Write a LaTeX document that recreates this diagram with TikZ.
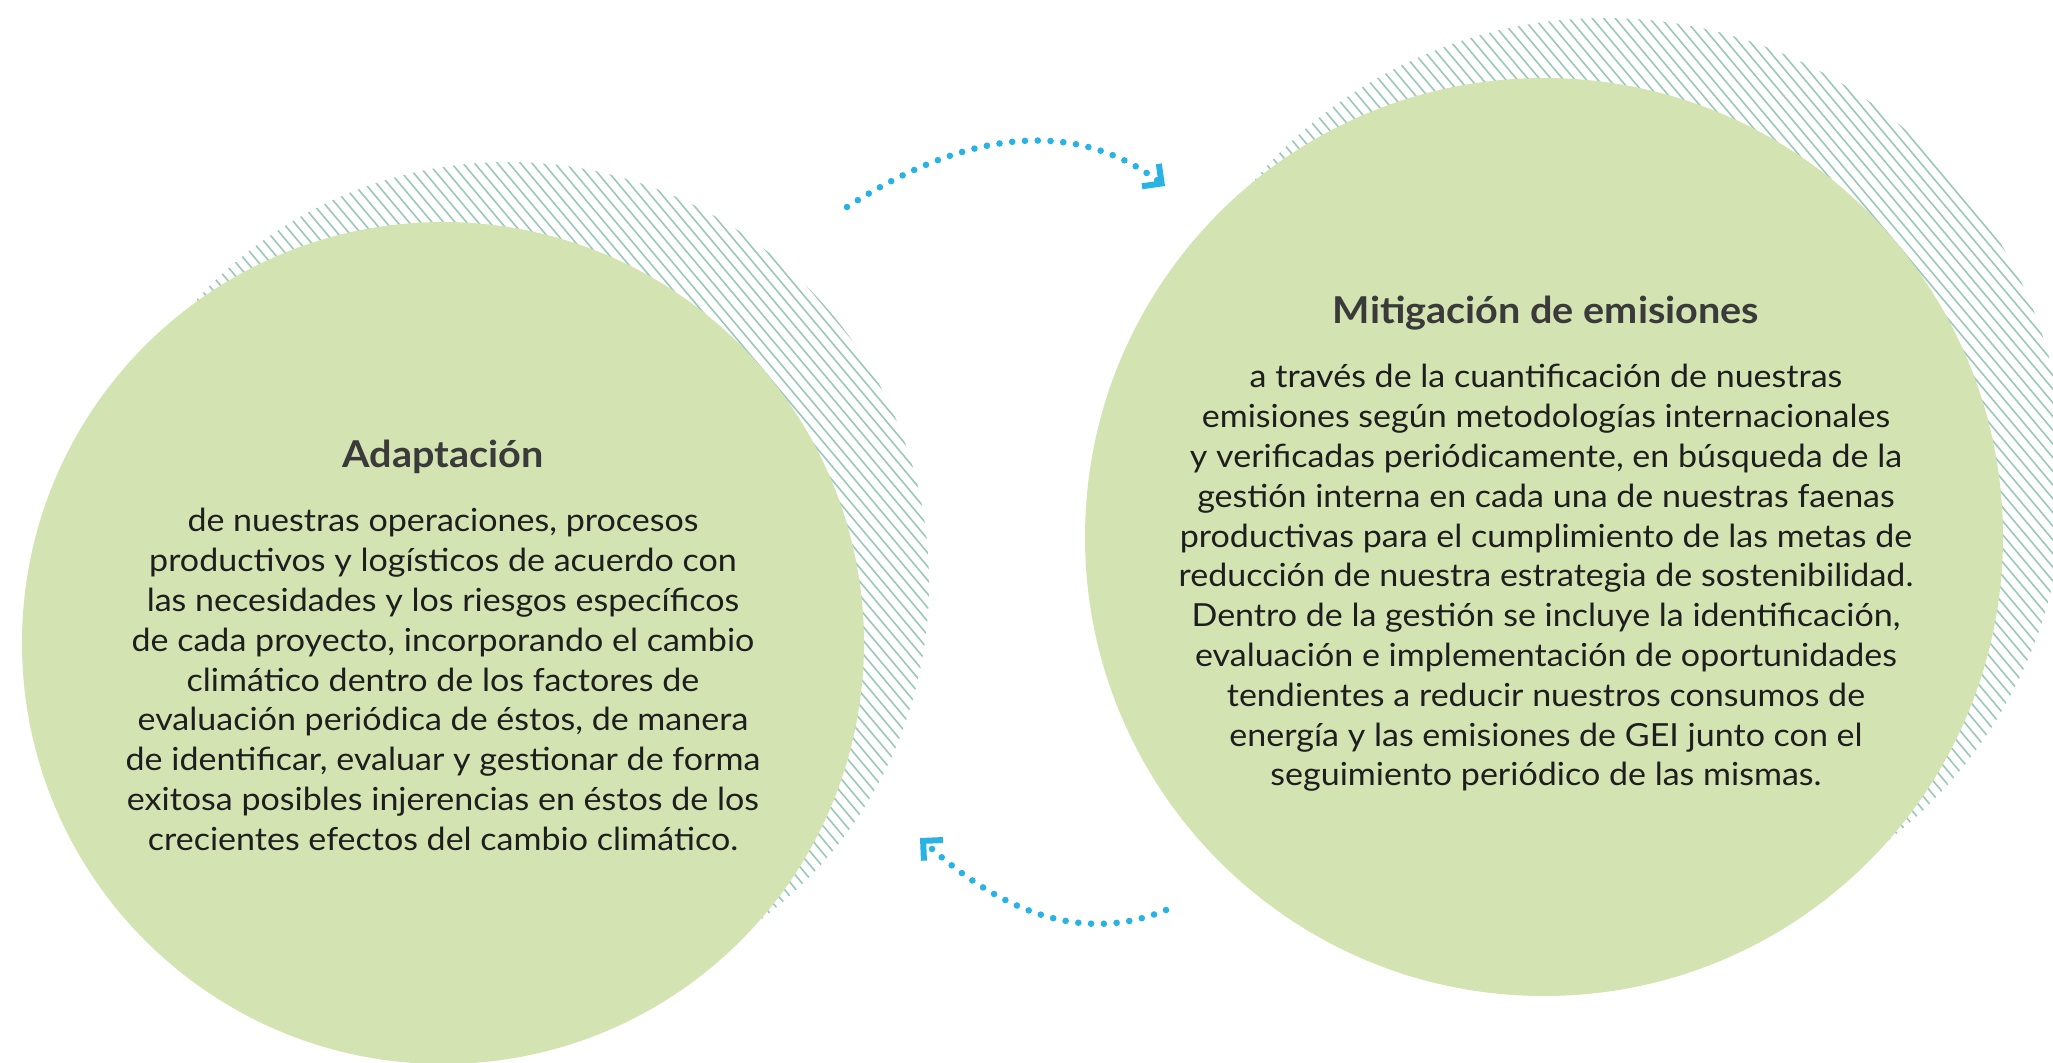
\documentclass[tikz,border=0pt]{standalone}
\usepackage{fontspec}
\setmainfont{Lato}[FakeStretch=1.07]
\usetikzlibrary{positioning, arrows.meta}
\definecolor{circlegreen}{RGB}{212,227,178}
\definecolor{hatchgreen}{RGB}{155,200,187}
\definecolor{arrowblue}{RGB}{41,178,228}
\definecolor{titlegray}{RGB}{58,58,58}
\definecolor{bodygray}{RGB}{30,30,30}
\tikzset{
  blob/.style={circle, fill=circlegreen, inner sep=0pt},
  hatchline/.style={hatchgreen, line width=0.8pt},
  heading/.style={font=\fontsize{18.5}{22}\selectfont\bfseries, text=titlegray, anchor=base},
  bodytext/.style={font=\fontsize{15.9}{19.9}\selectfont, text=bodygray, align=center, anchor=north, inner sep=0pt},
  dotarrow/.style={arrowblue, line width=3.3pt, line cap=round, dash pattern=on 0pt off 6.4pt,
    -{Straight Barb[length=7pt, width=14pt, line width=3pt, sharp]}},
}

\begin{document}
\begin{tikzpicture}[x=0.5pt, y=-0.5pt]
\clip (0,0) rectangle (2053,1062);

% hatched shadows behind the circles
\begin{scope}
\clip (508,583) circle (421);
\foreach \i in {0,...,136} \draw[hatchline] ({508-421-706+\i*11.5},162) -- ++(706,842);
\end{scope}
\begin{scope}
\clip (1605,478) circle (460);
\foreach \i in {0,...,150} \draw[hatchline] ({1605-460-772+\i*11.5},18) -- ++(772,920);
\end{scope}

% circles
\node[blob, minimum size=421pt] (adapt) at (443,643) {};
\node[blob, minimum size=459pt] (mitig) at (1544,537) {};

% texts
\node[heading] (adaptT) at (443,467) {Adaptación};
\node[bodytext] (adaptB) at (443,508) {de nuestras operaciones, procesos\\
productivos y logísticos de acuerdo con\\
las necesidades y los riesgos específicos\\
de cada proyecto, incorporando el cambio\\
climático dentro de los factores de\\
evaluación periódica de éstos, de manera\\
de identificar, evaluar y gestionar de forma\\
exitosa posibles injerencias en éstos de los\\
crecientes efectos del cambio climático.};

\node[heading] (mitigT) at (1546,323) {Mitigación de emisiones};
\node[bodytext] (mitigB) at (1546,364) {a través de la cuantificación de nuestras\\
emisiones según metodologías internacionales\\
y verificadas periódicamente, en búsqueda de la\\
gestión interna en cada una de nuestras faenas\\
productivas para el cumplimiento de las metas de\\
reducción de nuestra estrategia de sostenibilidad.\\
Dentro de la gestión se incluye la identificación,\\
evaluación e implementación de oportunidades\\
tendientes a reducir nuestros consumos de\\
energía y las emisiones de GEI junto con el\\
seguimiento periódico de las mismas.};

% dotted arrows
\coordinate (t0) at (847,207);
\coordinate (t1) at (1165,186);
\coordinate (b0) at (1166,910);
\coordinate (b1) at (920,838);
\draw[dotarrow] (t0) .. controls (971,127) and (1077,120) .. (t1);
\draw[dotarrow] (b0) .. controls (1089,942) and (1007,918) .. (b1);
\end{tikzpicture}
\end{document}
